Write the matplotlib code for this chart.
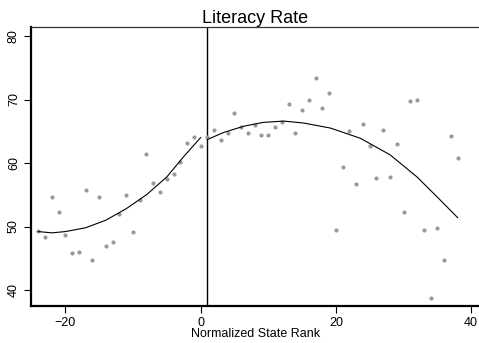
import numpy as np
import matplotlib
matplotlib.use("Agg")
import matplotlib.pyplot as plt

plt.rcParams['font.family'] = ['Liberation Sans', 'DejaVu Sans']

# Normalized state rank and literacy rate per state
rank = list(range(-24, 39))
literacy = [49.3, 48.4, 54.7, 52.3, 48.6, 45.9, 46.0, 55.7, 44.8, 54.7,
            46.9, 47.5, 51.9, 54.9, 49.2, 54.1, 61.4, 56.9, 55.4, 57.5,
            58.3, 60.2, 63.2, 64.1, 62.7, 64.1, 65.2, 63.7, 64.7, 67.9,
            65.6, 64.8, 66.0, 64.4, 64.4, 65.7, 66.4, 69.3, 64.7, 68.3,
            69.9, 73.4, 68.6, 71.0, 49.4, 59.4, 65.1, 56.7, 66.2, 62.6,
            57.7, 65.2, 57.8, 63.0, 52.3, 69.8, 69.9, 49.5, 38.8, 49.8,
            44.7, 64.3, 60.8]

# Smoothed fit below and above the cutoff
fit_left_x = [-24, -22, -20, -17, -14, -11, -8, -5, -2.5, 0]
fit_left_y = [49.2, 49.0, 49.2, 49.8, 51.0, 52.8, 55.0, 57.8, 61.0, 64.0]
fit_right_x = [1, 3.4, 6.4, 9.3, 12.3, 15.2, 19.2, 23.6, 28, 32, 35.4, 38]
fit_right_y = [63.7, 64.8, 65.8, 66.4, 66.6, 66.3, 65.5, 63.9, 61.3, 57.8,
               54.2, 51.4]

cutoff = 1
xticks = [-20, 0, 20, 40]
yticks = [40, 50, 60, 70, 80]

fig = plt.figure(figsize=(4.79, 3.43), dpi=100)
ax = fig.add_axes([31/479, 1 - 306/343, 1 - 31/479 + 0.002, (306 - 27)/343])

ax.scatter(rank, literacy, s=9, color='#9a9a9a', linewidths=0, zorder=3)
ax.plot(fit_left_x, fit_left_y, color='black', lw=0.8, zorder=4)
ax.plot(fit_right_x, fit_right_y, color='black', lw=0.8, zorder=4)

ax.axvline(cutoff, color='black', lw=1.0, zorder=2)

ax.set_xlim((31 - 201) / 6.78, (479 - 201) / 6.78 + 0.3)
ax.set_ylim(40 - 16 / 6.35, 40 + 263 / 6.35)
ax.set_xticks(xticks)
ax.set_yticks(yticks)
ax.set_yticklabels([str(v) for v in yticks], rotation=90, va='center')
ax.tick_params(axis='both', direction='out', length=5, width=0.8,
               labelsize=9, colors='black', pad=3)

for side in ('left', 'bottom'):
    ax.spines[side].set_linewidth(1.6)
ax.spines['top'].set_linewidth(0.9)
ax.spines['top'].set_color('#333333')
ax.spines['right'].set_visible(False)

ax.set_title('Literacy Rate', fontsize=13, pad=2)
ax.set_xlabel('Normalized State Rank', fontsize=9, labelpad=-1)

fig.savefig('out.png', dpi=100)
